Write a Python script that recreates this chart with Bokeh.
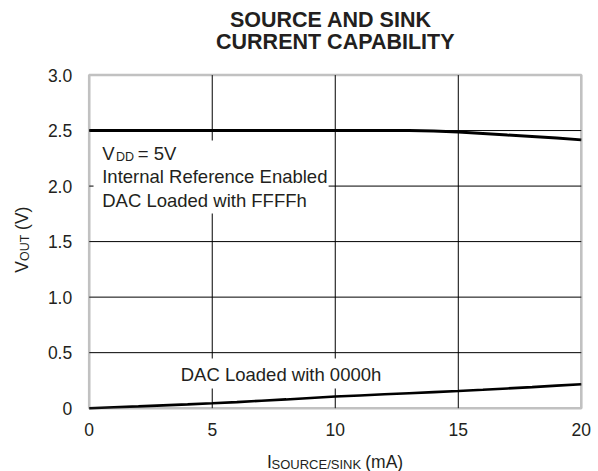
from bokeh.plotting import figure
from bokeh.models import Range1d, FixedTicker, Label, BoxAnnotation
from bokeh.embed import file_html
from bokeh.resources import INLINE
import math

# ---- data ----
current_ma = [0, 1, 2, 3, 4, 5, 6, 7, 8, 9, 10, 11, 12, 13, 14, 15, 16, 17, 18, 19, 20]
vout_ffff = [2.5, 2.5, 2.5, 2.5, 2.5, 2.5, 2.5, 2.5, 2.5, 2.5, 2.5, 2.5, 2.5, 2.5,
             2.496, 2.487, 2.474, 2.460, 2.447, 2.432, 2.416]
vout_0000 = [0.0, 0.008, 0.016, 0.025, 0.034, 0.044, 0.055, 0.067, 0.079, 0.092, 0.105,
             0.115, 0.125, 0.135, 0.145, 0.155, 0.166, 0.178, 0.190, 0.203, 0.216]
x_ticks = [0, 5, 10, 15, 20]
x_tick_labels = ["0", "5", "10", "15", "20"]
y_ticks = [0, 0.5, 1.0, 1.5, 2.0, 2.5, 3.0]
y_tick_labels = ["0", "0.5", "1.0", "1.5", "2.0", "2.5", "3.0"]
title_lines = ["SOURCE AND SINK", "CURRENT CAPABILITY"]

FONT = "Liberation Sans"
TXT = "#231f20"

# frame covers whole canvas; the chart box 0..20 x 0..3 sits inside it
p = figure(width=598, height=471, output_backend="svg", toolbar_location=None,
           x_range=Range1d(-3.606, 20.699), y_range=Range1d(-0.570, 3.671),
           min_border=0)
p.background_fill_color = "white"
p.border_fill_color = "white"
p.outline_line_color = None
p.grid.visible = False

for ax, ticks, labels in ((p.xaxis[0], x_ticks, x_tick_labels), (p.yaxis[0], y_ticks, y_tick_labels)):
    ax.ticker = FixedTicker(ticks=ticks)
    ax.major_label_overrides = {t: l for t, l in zip(ticks, labels)}
    ax.fixed_location = 0
    ax.axis_line_color = None
    ax.major_tick_line_color = None
    ax.minor_tick_line_color = None
    ax.major_tick_in = 0
    ax.major_tick_out = 0
    ax.major_label_text_font = FONT
    ax.major_label_text_font_size = "17.5px"
    ax.major_label_text_color = TXT
p.xaxis[0].major_label_standoff = 15
p.yaxis[0].major_label_standoff = 17

# grid lines from the inner tick positions
gx = x_ticks[1:-1]
gy = y_ticks[1:-1]
p.segment(x0=gx, y0=[y_ticks[0]] * len(gx), x1=gx, y1=[y_ticks[-1]] * len(gx),
          line_color="black", line_width=1)
p.segment(x0=[x_ticks[0]] * len(gy), y0=gy, x1=[x_ticks[-1]] * len(gy), y1=gy,
          line_color="black", line_width=1)

p.line(current_ma, vout_ffff, line_color="black", line_width=3)
p.line(current_ma, vout_0000, line_color="black", line_width=2.6)

# white boxes behind the notes
p.add_layout(BoxAnnotation(left=0.175, right=9.73, bottom=1.753, top=2.41,
                           fill_color="white", fill_alpha=1, line_color=None))
p.add_layout(BoxAnnotation(left=3.5, right=12.25, bottom=0.177, top=0.447,
                           fill_color="white", fill_alpha=1, line_color=None))
# chart frame
p.add_layout(BoxAnnotation(left=x_ticks[0], right=x_ticks[-1], bottom=y_ticks[0], top=y_ticks[-1],
                           fill_alpha=0, line_color="#333333", line_width=2.6))


def lab(x, y, text, size, bold=False, align="left", angle=0.0):
    p.add_layout(Label(x=x, y=y, text=text, text_font=FONT, text_font_size=size,
                       text_color=TXT, text_align=align, text_baseline="alphabetic",
                       text_font_style="bold" if bold else "normal", angle=angle))

# title
lab(9.82, 3.491, title_lines[0], "21.5px", bold=True, align="center")
lab(10.0, 3.300, title_lines[1], "21.5px", bold=True, align="center")

# notes
lab(0.528, 2.293, "V", "18.5px")
lab(1.09, 2.263, "DD", "12.5px")
lab(1.97, 2.293, "= 5V", "18.5px")
lab(0.528, 2.083, "Internal Reference Enabled", "18.5px")
lab(0.528, 1.873, "DAC Loaded with FFFFh", "18.5px")
lab(3.72, 0.303, "DAC Loaded with 0000h", "18.5px")

# y axis label (rotated)
lab(-2.740, 1.22, "V", "17.5px", angle=math.pi / 2)
lab(-2.602, 1.325, "OUT", "12.5px", angle=math.pi / 2)
lab(-2.740, 1.605, "(V)", "17.5px", angle=math.pi / 2)

# x axis label
lab(7.23, -0.484, "I", "17.5px")
lab(7.41, -0.507, "SOURCE/SINK", "13px")
lab(11.22, -0.484, "(mA)", "17.5px")

open("out.html", "w").write(file_html(p, INLINE))
